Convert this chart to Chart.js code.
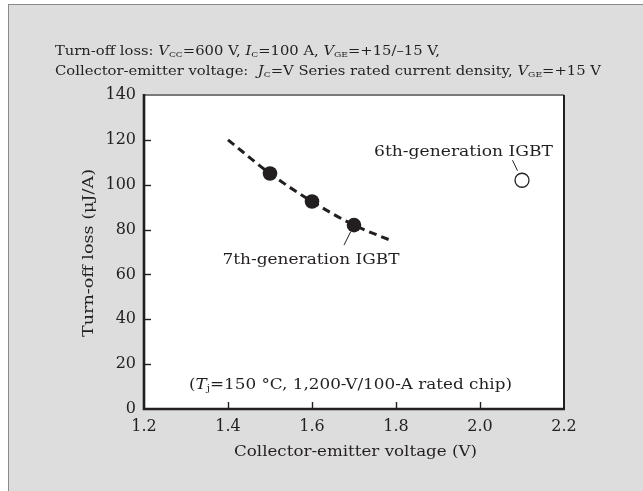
<!DOCTYPE html>
<html>
<head>
<meta charset="utf-8">
<script src="https://cdn.jsdelivr.net/npm/chart.js@4.4.1/dist/chart.umd.min.js"></script>
<style>
  html, body { margin:0; padding:0; background:#ffffff; width:643px; height:491px; overflow:hidden; }
  #panel { position:absolute; left:8px; top:4px; width:700px; height:600px; background:#dcdddc; border:1px solid #8a8a8a; }
  #c { position:absolute; left:0; top:0; }
</style>
</head>
<body>
<div id="panel"></div>
<canvas id="c" width="643" height="491"></canvas>
<script>
// ---- data ----
const xTickValues = [1.2, 1.4, 1.6, 1.8, 2.0, 2.2];
const yTickValues = [0, 20, 40, 60, 80, 100, 120, 140];
const gen7Voltage = [1.5, 1.6, 1.7];
const gen7Loss = [105, 92.5, 82];
const gen6Voltage = [2.1];
const gen6Loss = [102];
const trendVoltage = [1.4, 1.5, 1.6, 1.7, 1.79];
const trendLoss = [120, 105, 92.5, 82, 75];

const INK = '#231f20';
const SERIF = '"DejaVu Serif", "Liberation Serif", serif';

function runFont(r, size) {
  const s = r.sub ? size * 0.62 : size;
  return (r.i ? 'italic ' : '') + s + 'px ' + SERIF;
}
function drawRuns(ctx, runs, x, y, size, align, targetW, rotate) {
  runs = runs.map(r => typeof r === 'string' ? {t:r} : r);
  ctx.save();
  let total = 0;
  runs.forEach(r => { ctx.font = runFont(r, size); r.w = ctx.measureText(r.t).width; total += r.w; });
  const sc = targetW ? targetW / total : 1;
  ctx.translate(x, y);
  if (rotate) ctx.rotate(rotate);
  ctx.scale(sc, 1);
  let cx = align === 'center' ? -total / 2 : (align === 'right' ? -total : 0);
  ctx.fillStyle = INK;
  ctx.textBaseline = 'alphabetic';
  ctx.textAlign = 'left';
  runs.forEach(r => {
    ctx.font = runFont(r, size);
    ctx.fillText(r.t, cx, r.sub ? size * 0.18 : 0);
    cx += r.w;
  });
  ctx.restore();
}

const decor = {
  id: 'decor',
  beforeDraw(chart) {
    const {ctx, chartArea: a} = chart;
    ctx.save();
    ctx.fillStyle = '#ffffff';
    ctx.fillRect(a.left, a.top, a.right - a.left, a.bottom - a.top);
    ctx.restore();
  },
  afterDatasetsDraw(chart) {
    const {ctx, chartArea: a, scales: {x, y}} = chart;
    ctx.save();
    // frame
    ctx.strokeStyle = '#7a7a7a'; ctx.lineWidth = 2;
    ctx.beginPath(); ctx.moveTo(a.left, a.top); ctx.lineTo(a.right, a.top); ctx.stroke();
    ctx.strokeStyle = INK; ctx.lineWidth = 2;
    ctx.beginPath(); ctx.moveTo(a.right, a.top); ctx.lineTo(a.right, a.bottom); ctx.stroke();
    ctx.lineWidth = 2.6;
    ctx.beginPath(); ctx.moveTo(a.left, a.top - 1); ctx.lineTo(a.left, a.bottom); ctx.lineTo(a.right + 1, a.bottom); ctx.stroke();
    // inward ticks
    ctx.lineWidth = 1.4;
    yTickValues.forEach(v => {
      const py = Math.round(y.getPixelForValue(v)) + 0.5;
      if (v === 0 || v === 140) return;
      ctx.beginPath(); ctx.moveTo(a.left, py); ctx.lineTo(a.left + 7, py); ctx.stroke();
    });
    xTickValues.forEach(v => {
      const px = Math.round(x.getPixelForValue(v)) + 0.5;
      if (v === 1.2 || v === 2.2) return;
      ctx.beginPath(); ctx.moveTo(px, a.bottom); ctx.lineTo(px, a.bottom - 7); ctx.stroke();
    });
    // leader lines
    ctx.lineWidth = 1;
    const p7x = x.getPixelForValue(gen7Voltage[2]), p7y = y.getPixelForValue(gen7Loss[2]);
    ctx.beginPath(); ctx.moveTo(p7x - 3.3, p7y + 6.6); ctx.lineTo(p7x - 10, p7y + 20); ctx.stroke();
    const p6x = x.getPixelForValue(gen6Voltage[0]), p6y = y.getPixelForValue(gen6Loss[0]);
    ctx.beginPath(); ctx.moveTo(p6x - 4.5, p6y - 9.5); ctx.lineTo(p6x - 9.5, p6y - 20); ctx.stroke();
    ctx.restore();

    // texts
    drawRuns(ctx, ['Turn-off loss: ', {t:'V', i:1}, {t:'CC', sub:1}, '=600 V, ', {t:'I', i:1}, {t:'C', sub:1}, '=100 A, ', {t:'V', i:1}, {t:'GE', sub:1}, '=+15/\u201315 V,'], 55, 55, 13, 'left', 385);
    drawRuns(ctx, ['Collector-emitter voltage:  ', {t:'J', i:1}, {t:'C', sub:1}, '=V Series rated current density, ', {t:'V', i:1}, {t:'GE', sub:1}, '=+15 V'], 55, 75, 13, 'left', 546);
    drawRuns(ctx, ['7th-generation IGBT'], 311, 263.5, 15.5, 'center', 177);
    drawRuns(ctx, ['6th-generation IGBT'], 463.5, 155.5, 15.5, 'center', 179);
    drawRuns(ctx, ['(', {t:'T', i:1}, {t:'j', sub:1}, '=150 \u00b0C, 1,200-V/100-A rated chip)'], 350.5, 388.5, 15, 'center', 323);
    drawRuns(ctx, ['Collector-emitter voltage (V)'], 355.5, 456, 15, 'center', 243);
    drawRuns(ctx, ['Turn-off loss (\u03bcJ/A)'], 93.3, 253, 15, 'center', 168, -Math.PI / 2);
  }
};

new Chart(document.getElementById('c'), {
  type: 'scatter',
  data: {
    datasets: [
      { label: '7th-generation IGBT', data: gen7Voltage.map((v, i) => ({x: v, y: gen7Loss[i]})),
        pointRadius: 7.3, pointBackgroundColor: INK, pointBorderColor: INK, pointBorderWidth: 0, showLine: false, order: 1 },
      { label: '6th-generation IGBT', data: gen6Voltage.map((v, i) => ({x: v, y: gen6Loss[i]})),
        pointRadius: 7, pointBackgroundColor: '#ffffff', pointBorderColor: INK, pointBorderWidth: 1.3, showLine: false, order: 1 },
      { label: 'trend', data: trendVoltage.map((v, i) => ({x: v, y: trendLoss[i]})),
        showLine: true, borderColor: INK, borderWidth: 3, borderDash: [8, 5], pointRadius: 0, tension: 0.4,
        cubicInterpolationMode: 'monotone', fill: false, order: 2 }
    ]
  },
  options: {
    responsive: false, animation: false, devicePixelRatio: 1,
    layout: { padding: { left: 0, right: 79, top: 95, bottom: 0 } },
    plugins: { legend: { display: false }, tooltip: { enabled: false } },
    scales: {
      x: {
        type: 'linear', min: 1.2, max: 2.2,
        afterBuildTicks: s => { s.ticks = xTickValues.map(v => ({value: v})); },
        afterFit: s => { s.height = 82; },
        grid: { display: false, drawTicks: false },
        border: { display: false },
        ticks: { padding: 8, color: INK, font: { family: SERIF, size: 16 }, maxRotation: 0, autoSkip: false,
                 callback: v => Number(v).toFixed(1) }
      },
      y: {
        type: 'linear', min: 0, max: 140,
        afterBuildTicks: s => { s.ticks = yTickValues.map(v => ({value: v})); },
        afterFit: s => { s.width = 144; },
        grid: { display: false, drawTicks: false },
        border: { display: false },
        ticks: { padding: 8, color: INK, font: { family: SERIF, size: 16 }, autoSkip: false,
                 callback: v => String(v) }
      }
    }
  },
  plugins: [decor]
});
</script>
</body>
</html>
